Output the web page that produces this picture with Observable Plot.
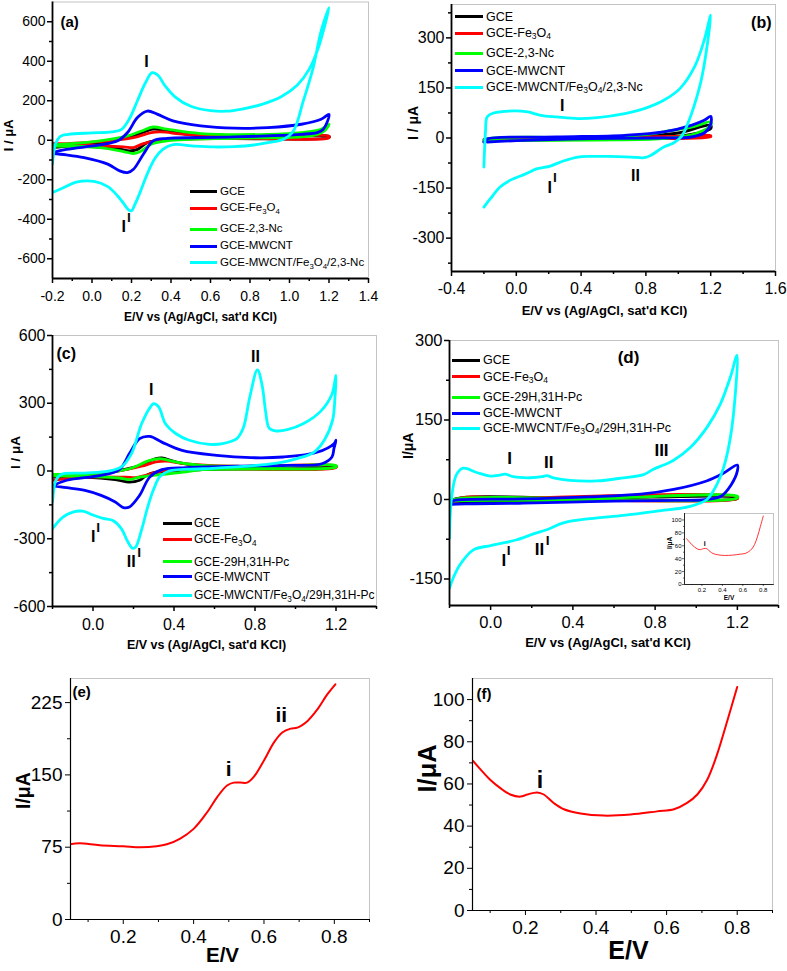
<!DOCTYPE html>
<html><head><meta charset="utf-8">
<script src="https://cdn.jsdelivr.net/npm/d3@7"></script>
<script src="https://cdn.jsdelivr.net/npm/@observablehq/plot@0.6"></script>
<style>
body{margin:0;background:#fff;}
#fig{position:relative;width:787px;height:971px;overflow:hidden;background:#fff;font-family:"Liberation Sans",Arial,Helvetica,sans-serif;}
#fig svg{position:absolute;}
.lt{position:absolute;line-height:1;white-space:nowrap;color:#000;font-family:"Liberation Sans",Arial,Helvetica,sans-serif;}
.lt sub{font-size:0.68em;vertical-align:-0.35em;line-height:0;}
.sw{position:absolute;height:3px;}
</style></head>
<body><div id="fig"></div>
<script>
// ---------- series names ----------
const namesNc = ["GCE","GCE-Fe3O4","GCE-2,3-Nc","GCE-MWCNT","GCE-MWCNT/Fe3O4/2,3-Nc"];
const namesPc = ["GCE","GCE-Fe3O4","GCE-29H,31H-Pc","GCE-MWCNT","GCE-MWCNT/Fe3O4/29H,31H-Pc"];
const seriesColors = ["#000000","#ff0000","#00ff00","#0000ff","#00ffff"];

// ---------- panel (a): CV, 2,3-Nc, [E (V), I (uA)] ----------
const aGCE = [[-0.2,-37],[0.04,-12],[0.21,22],[0.31,56],[0.38,47],[0.55,22],[0.9,20],[1.2,20],[1.2,14],[0.7,8],[0.38,5],[0.28,-12],[0.23,-46],[0.19,-54],[0.13,-42],[-0.04,-29],[-0.2,-24]];
const aFe = [[-0.2,-20],[0.04,-7],[0.21,13],[0.3,39],[0.35,42],[0.47,30],[0.72,22],[1.2,20],[1.2,13],[0.72,10],[0.35,0],[0.26,-17],[0.21,-37],[0.16,-34],[-0.04,-24],[-0.2,-17]];
const aNc = [[-0.2,-24],[0.04,-3],[0.18,22],[0.25,47],[0.31,67],[0.38,56],[0.55,34],[0.89,30],[1.06,39],[1.16,56],[1.2,81],[1.18,50],[1.14,30],[1.06,17],[0.72,10],[0.38,-3],[0.3,-20],[0.25,-54],[0.21,-67],[0.16,-57],[0.04,-37],[-0.2,-29]];
const aMW = [[-0.2,-62],[-0.13,-46],[0.04,-24],[0.13,-3],[0.18,39],[0.23,115],[0.28,148],[0.33,132],[0.41,98],[0.55,73],[0.72,61],[0.89,64],[1.06,81],[1.16,106],[1.2,131],[1.19,90],[1.17,55],[1.14,39],[1.06,30],[0.89,22],[0.72,17],[0.55,13],[0.38,10],[0.31,-3],[0.26,-71],[0.21,-147],[0.18,-164],[0.14,-155],[0.08,-121],[-0.04,-88],[-0.13,-74],[-0.2,-67]];
const aComp = [[-0.2,-120],[-0.185,-20],[-0.16,20],[-0.12,30],[0.0,37],[0.1,42],[0.15,55],[0.19,110],[0.23,200],[0.27,290],[0.305,342],[0.335,328],[0.37,275],[0.42,220],[0.5,172],[0.6,150],[0.68,147],[0.76,158],[0.86,182],[0.96,222],[1.04,280],[1.1,360],[1.15,480],[1.2,671],[1.16,553],[1.12,368],[1.07,199],[1.02,47],[0.97,5],[0.89,-12],[0.82,-24],[0.72,-32],[0.62,-34],[0.52,-30],[0.41,-22],[0.36,-45],[0.32,-90],[0.28,-170],[0.245,-260],[0.215,-330],[0.2,-357],[0.185,-352],[0.16,-320],[0.13,-282],[0.08,-235],[0.01,-208],[-0.08,-212],[-0.14,-238],[-0.2,-265]];
const aPeaks = [{t:"I",x:0.276,y:395},{t:"I",x:0.161,y:-440,sup:true}];

// ---------- panel (b) ----------
const bGCE = [[-0.2,-5],[0.5,2],[0.8,6],[1.0,15],[1.2,38],[1.2,28],[1.0,5],[0.5,-3],[-0.2,-6]];
const bFe = [[-0.2,-12],[-0.1,-3],[0.5,2],[1.0,5],[1.2,7],[1.2,4],[0.5,-2],[-0.1,-5],[-0.2,-10]];
const bNc = [[-0.2,-8],[-0.18,-2],[0.5,2],[0.8,10],[0.95,22],[1.1,35],[1.2,48],[1.2,38],[1.1,12],[0.9,-2],[0.5,-6],[-0.2,-8]];
const bMW = [[-0.2,-12],[-0.18,-3],[0.25,3],[0.67,8],[0.91,18],[1.08,38],[1.16,53],[1.2,65],[1.2,41],[1.16,15],[1.08,3],[0.87,0],[0.46,-2],[0.05,-7],[-0.18,-12]];
const bComp = [[-0.2,-87],[-0.19,20],[-0.18,63],[-0.14,75],[-0.01,81],[0.07,78],[0.15,68],[0.25,63],[0.38,58],[0.5,61],[0.67,73],[0.79,88],[0.91,113],[1.01,148],[1.1,213],[1.16,293],[1.2,368],[1.17,250],[1.14,170],[1.1,100],[1.06,45],[1.02,5],[0.97,-15],[0.91,-27],[0.83,-52],[0.79,-59],[0.71,-57],[0.56,-55],[0.46,-55],[0.38,-57],[0.29,-69],[0.21,-84],[0.13,-92],[0.05,-109],[-0.04,-127],[-0.1,-147],[-0.16,-182],[-0.2,-207]];
const bPeaks = [{t:"I",x:0.283,y:95},{t:"I",x:0.207,y:-148,sup:true},{t:"II",x:0.736,y:-112}];

// ---------- panel (c) ----------
const cGCE = [[-0.2,-15],[0.04,-9],[0.21,18],[0.31,55],[0.34,58],[0.41,40],[0.54,22],[1.2,21],[1.2,18],[0.54,6],[0.28,-12],[0.23,-41],[0.18,-49],[0.11,-38],[-0.04,-27],[-0.2,-27]];
const cFe = [[-0.2,-22],[0.04,-12],[0.24,21],[0.31,40],[0.36,44],[0.46,32],[0.71,21],[1.2,22],[1.2,15],[0.54,9],[0.34,0],[0.26,-19],[0.21,-29],[0.16,-27],[-0.04,-27],[-0.2,-41]];
const cPc = [[-0.2,-15],[0.04,-9],[0.18,10],[0.28,47],[0.33,55],[0.41,40],[0.54,25],[0.88,21],[1.2,24],[1.2,18],[0.54,6],[0.46,-4],[0.23,-27],[0.18,-38],[0.13,-31],[-0.04,-24],[-0.2,-22]];
const cMW = [[-0.2,-66],[-0.13,-41],[0.04,-19],[0.13,6],[0.18,77],[0.23,143],[0.28,153],[0.34,128],[0.44,91],[0.61,69],[0.78,59],[0.94,62],[1.11,84],[1.19,121],[1.2,136],[1.19,100],[1.18,62],[1.13,32],[0.96,25],[0.71,21],[0.46,15],[0.34,6],[0.28,-27],[0.23,-108],[0.18,-159],[0.15,-162],[0.11,-137],[0.04,-108],[-0.04,-86],[-0.13,-74],[-0.2,-66]];
const cComp = [[-0.2,-137],[-0.183,-41],[-0.158,-15],[-0.04,-9],[0.075,-1],[0.14,18],[0.19,77],[0.24,209],[0.283,283],[0.3,298],[0.325,283],[0.358,209],[0.41,165],[0.475,136],[0.575,118],[0.64,121],[0.71,143],[0.742,190],[0.775,330],[0.812,448],[0.835,380],[0.853,260],[0.87,190],[0.9,178],[0.96,183],[1.04,210],[1.125,265],[1.18,340],[1.2,423],[1.195,327],[1.183,224],[1.142,136],[1.092,84],[1.008,55],[0.908,35],[0.708,18],[0.542,10],[0.375,0],[0.33,-25],[0.3,-80],[0.27,-160],[0.24,-260],[0.21,-338],[0.195,-342],[0.17,-310],[0.14,-255],[0.1,-220],[0.05,-210],[0.0,-195],[-0.05,-178],[-0.1,-182],[-0.15,-205],[-0.2,-255]];
const cPeaks = [{t:"I",x:0.287,y:361},{t:"II",x:0.802,y:504},{t:"I",x:0.001,y:-293,sup:true},{t:"II",x:0.189,y:-404,sup:true}];

// ---------- panel (d) ----------
const dGCE = [[-0.2,-8],[-0.18,0],[0.5,2],[1.2,4],[1.2,2],[0.5,-2],[-0.2,-6]];
const dFe = [[-0.2,-16],[-0.17,0],[0.16,3],[1.2,5],[1.2,2],[0.32,-1],[-0.17,-4],[-0.2,-13]];
const dPc = [[-0.2,-6],[-0.18,0],[0.48,2],[1.2,6],[1.2,3],[0.48,-2],[-0.18,-3],[-0.2,-5]];
const dMW = [[-0.2,-6],[-0.18,-2],[0.16,1],[0.48,5],[0.73,10],[0.89,19],[1.05,35],[1.13,49],[1.2,65],[1.2,54],[1.17,28],[1.12,6],[1.05,0],[0.81,-2],[0.48,-4],[0.16,-7],[-0.08,-8],[-0.2,-9]];
const dComp = [[-0.2,-73],[-0.19,3],[-0.166,47],[-0.133,59],[-0.068,51],[0,44],[0.045,46],[0.07,48],[0.11,43],[0.19,41],[0.25,43],[0.273,45],[0.305,41],[0.386,36],[0.516,35],[0.646,41],[0.744,47],[0.792,57],[0.841,65],[0.89,74],[0.971,98],[1.052,136],[1.117,180],[1.166,231],[1.198,272],[1.19,199],[1.166,117],[1.133,60],[1.1,28],[1.052,0],[0.971,-13],[0.808,-22],[0.646,-30],[0.484,-36],[0.354,-44],[0.273,-57],[0.208,-65],[0.127,-76],[0.062,-82],[0,-87],[-0.084,-95],[-0.149,-123],[-0.182,-148],[-0.2,-167]];
const dPeaks = [{t:"I",x:0.092,y:77},{t:"II",x:0.283,y:70},{t:"III",x:0.831,y:92},{t:"I",x:0.064,y:-115,sup:true},{t:"II",x:0.238,y:-95,sup:true}];

// ---------- panels (e), (f) and inset ----------
const eCurve = [[0.048,78],[0.076,79],[0.133,77],[0.2,76],[0.248,75],[0.295,76],[0.324,78],[0.362,84],[0.4,94],[0.438,111],[0.467,127],[0.495,139],[0.514,142],[0.533,142],[0.552,142],[0.571,148],[0.6,165],[0.629,184],[0.652,194],[0.676,198],[0.695,199],[0.724,206],[0.752,218],[0.781,234],[0.803,244]];
const ePeaks = [{t:"i",x:0.5,y:156},{t:"ii",x:0.649,y:212}];
const fCurve = [[0.051,71],[0.072,67],[0.1,62],[0.129,58],[0.157,55],[0.186,54],[0.205,55],[0.233,56],[0.252,55],[0.28,51],[0.309,48],[0.356,46],[0.422,45],[0.498,45.5],[0.573,47],[0.621,48],[0.658,51],[0.687,55],[0.715,62],[0.743,74],[0.772,90],[0.8,106]];
const fPeaks = [{t:"i",x:0.241,y:61.6}];
const insetPeaks = [{t:"i",x:0.228,y:63}];

// ---------- ticks ----------
const xTicksA = [-0.2,0,0.2,0.4,0.6,0.8,1.0,1.2,1.4], xMinorA = [-0.1,0.1,0.3,0.5,0.7,0.9,1.1,1.3];
const yTicksA = [-600,-400,-200,0,200,400,600], yMinorA = [-500,-300,-100,100,300,500];
const xTicksB = [-0.4,0,0.4,0.8,1.2,1.6], xMinorB = [-0.2,0.2,0.6,1.0,1.4];
const yTicksB = [-300,-150,0,150,300], yMinorB = [-375,-225,-75,75,225,375];
const xTicksCD = [0,0.4,0.8,1.2], xMinorCD = [-0.2,0.2,0.6,1.0,1.4];
const yTicksC = [-600,-300,0,300,600], yMinorC = [-450,-150,150,450];
const yTicksD = [-150,0,150,300], yMinorD = [-75,75,225];
const xTicksEF = [0.2,0.4,0.6,0.8], xMinorEF = [0.1,0.3,0.5,0.7,0.9];
const yTicksE = [0,75,150,225], yMinorE = [37.5,112.5,187.5];
const yTicksF = [0,20,40,60,80,100], yMinorF = [10,30,50,70,90];

const xTitleCV = "E/V vs (Ag/AgCl, sat'd KCl)";

// ---------- drawing ----------
const fig = document.getElementById("fig");
const FONT = '"Liberation Sans", Arial, Helvetica, sans-serif';
const fx1 = d => d.toFixed(1);
const fy0 = d => String(d);

function panel(c) {
  const [L, T, W, H] = c.box;
  const [x0, x1, y0, y1] = c.frame;
  const marks = [];
  if (c.fill) marks.push(Plot.frame({fill: "white", stroke: "none"}));
  marks.push(Plot.frame({stroke: "#c4c4c4", strokeWidth: 1}));
  c.lines.forEach((s, i) => marks.push(Plot.line(s, {x: d => d[0], y: d => d[1], stroke: c.colors[i], strokeWidth: c.sw, curve: "catmull-rom", clip: true})));
  marks.push(
    Plot.axisX({ticks: c.xMinor, tickSize: c.minor, tickFormat: () => "", strokeWidth: c.tw, label: null}),
    Plot.axisX({ticks: c.xMajor, tickSize: c.major, tickPadding: c.xpad, tickFormat: fx1, strokeWidth: c.tw, label: null}),
    Plot.axisY({ticks: c.yMinor, tickSize: c.minor, tickFormat: () => "", strokeWidth: c.tw, label: null}),
    Plot.axisY({ticks: c.yMajor, tickSize: c.major, tickPadding: c.ypad, tickFormat: fy0, strokeWidth: c.tw, label: null}),
    Plot.ruleX([c.xd[0]], {stroke: "#000", strokeWidth: c.aw}),
    Plot.ruleY([c.yd[0]], {stroke: "#000", strokeWidth: c.aw}),
    Plot.text([c.xTitle], {text: d => d, frameAnchor: "bottom", lineAnchor: "middle", dx: c.xt[0], dy: c.xt[1], fontSize: c.xt[2], fontWeight: "bold", fill: "#000"}),
    Plot.text([c.yTitle], {text: d => d, frameAnchor: "left", lineAnchor: "middle", rotate: -90, dx: c.yt[0], dy: c.yt[1], fontSize: c.yt[2], fontWeight: "bold", fill: "#000"})
  );
  if (c.tag) marks.push(Plot.text([c.tag[0]], {text: d => d, frameAnchor: c.tag[1], lineAnchor: "middle", textAnchor: c.tag[2], dx: c.tag[3], dy: c.tag[4], fontSize: c.tag[5], fontWeight: "bold", fill: "#000"}));
  marks.push(Plot.text(c.peaks, {x: "x", y: "y", text: "t", fontSize: c.pfs, fontWeight: "bold", fill: "#000"}));
  c.peaks.filter(p => p.sup).forEach(p => {
    marks.push(Plot.text([p], {x: "x", y: "y", text: () => "I", dx: p.t.length > 1 ? 8 : 5, dy: -9, fontSize: Math.round(c.pfs * 0.72), fontWeight: "bold", fill: "#000", stroke: "#000", strokeWidth: 0.2}));
  });
  const svg = Plot.plot({
    width: W, height: H,
    marginLeft: x0 - L, marginRight: L + W - x1, marginTop: y0 - T, marginBottom: T + H - y1,
    x: {domain: c.xd}, y: {domain: c.yd},
    style: {background: "transparent", overflow: "visible", fontFamily: FONT, fontSize: c.fs + "px", color: "#000"},
    marks
  });
  svg.style.position = "absolute";
  svg.style.left = L + "px";
  svg.style.top = T + "px";
  fig.appendChild(svg);
}

function legend(names, colors, swX, swW, txX, ys, fs) {
  names.forEach((n, i) => {
    const sw = document.createElement("div");
    sw.className = "sw";
    sw.style.cssText += `left:${swX}px;top:${ys[i] - 1.5}px;width:${swW}px;background:${colors[i]};`;
    fig.appendChild(sw);
    const t = document.createElement("div");
    t.className = "lt";
    t.style.cssText += `left:${txX}px;top:${ys[i]}px;font-size:${fs}px;transform:translateY(-52%);`;
    t.innerHTML = n.replace("Fe3O4", "Fe<sub>3</sub>O<sub>4</sub>");
    fig.appendChild(t);
  });
}

const common = {colors: seriesColors, sw: 2.8, tw: 1.5, aw: 1.8, major: 5, minor: 3, ypad: 2};

panel({...common, box: [0, 0, 390, 330], frame: [52, 368, 1.5, 278], xd: [-0.2, 1.4], yd: [-700, 700],
  lines: [aGCE, aFe, aNc, aMW, aComp], xMajor: xTicksA, xMinor: xMinorA, yMajor: yTicksA, yMinor: yMinorA,
  fs: 14, xpad: 8, xTitle: xTitleCV, xt: [-10, 39, 12], yTitle: "I / μA", yt: [-44, 11, 13],
  tag: ["(a)", "top-left", "start", 8, 20, 15], peaks: aPeaks, pfs: 16});

panel({...common, box: [390, 0, 397, 330], frame: [451, 775, 4, 271], xd: [-0.4, 1.6], yd: [-400, 400],
  lines: [bGCE, bFe, bNc, bMW, bComp], xMajor: xTicksB, xMinor: xMinorB, yMajor: yTicksB, yMinor: yMinorB,
  fs: 16, xpad: 6, xTitle: xTitleCV, xt: [-9, 39, 13], yTitle: "I / μA", yt: [-38, 2, 14],
  tag: ["(b)", "top-right", "end", -4, 18, 16], peaks: bPeaks, pfs: 16});

panel({...common, box: [0, 330, 390, 330], frame: [52, 376, 335, 606], xd: [-0.2, 1.4], yd: [-600, 600],
  lines: [cGCE, cFe, cPc, cMW, cComp], xMajor: xTicksCD, xMinor: xMinorCD, yMajor: yTicksC, yMinor: yMinorC,
  fs: 16, xpad: 7, xTitle: xTitleCV, xt: [-8, 38, 12.5], yTitle: "I / μA", yt: [-37, -2, 13.5],
  tag: ["(c)", "top-left", "start", 4, 18, 16], peaks: cPeaks, pfs: 16});

panel({...common, box: [390, 330, 397, 330], frame: [449, 778, 340, 605], xd: [-0.2, 1.4], yd: [-200, 300],
  lines: [dGCE, dFe, dPc, dMW, dComp], xMajor: xTicksCD, xMinor: xMinorCD, yMajor: yTicksD, yMinor: yMinorD,
  fs: 16.5, xpad: 6, xTitle: xTitleCV, xt: [-6, 37, 13], yTitle: "I/μA", yt: [-41, -14, 14],
  tag: ["(d)", "top-left", "middle", 179, 17, 17], peaks: dPeaks, pfs: 17});

panel({colors: ["#ff0000"], sw: 0.8, tw: 0.6, aw: 0.8, major: 2, minor: 1, ypad: 1, fill: true,
  box: [660, 505, 127, 105], frame: [684, 773, 513, 584], xd: [0.03, 0.9], yd: [0, 110],
  lines: [fCurve], xMajor: xTicksEF, xMinor: xMinorEF, yMajor: yTicksF, yMinor: yMinorF,
  fs: 6, xpad: 1, xTitle: "E/V", xt: [0, 13, 6.5], yTitle: "I/μA", yt: [-15, 0, 6.5],
  tag: null, peaks: insetPeaks, pfs: 7});

panel({colors: ["#ff0000"], sw: 2, tw: 1, aw: 1.2, major: 5, minor: 3, ypad: 3,
  box: [0, 660, 390, 311], frame: [70, 369, 678, 919], xd: [0.05, 0.9], yd: [0, 250],
  lines: [eCurve], xMajor: xTicksEF, xMinor: xMinorEF, yMajor: yTicksE, yMinor: yMinorE,
  fs: 19, xpad: 5, xTitle: "E/V", xt: [2.5, 36, 20.5], yTitle: "I/μA", yt: [-47, 10, 19.5],
  tag: ["(e)", "top-left", "start", 2, 14, 15], peaks: ePeaks, pfs: 21});

panel({colors: ["#ff0000"], sw: 2, tw: 1, aw: 1.2, major: 5, minor: 3, ypad: 3,
  box: [390, 660, 397, 311], frame: [472, 772, 678, 910], xd: [0.05, 0.9], yd: [0, 110],
  lines: [fCurve], xMajor: xTicksEF, xMinor: xMinorEF, yMajor: yTicksF, yMinor: yMinorF,
  fs: 19, xpad: 5, xTitle: "E/V", xt: [6, 40, 25], yTitle: "I/μA", yt: [-45, -2, 25.5],
  tag: ["(f)", "top-left", "start", 4, 16, 15], peaks: fPeaks, pfs: 23});

legend(namesNc, seriesColors, 190, 27, 220, [191.7, 208.3, 229.3, 246, 262.7], 11.5);
legend(namesNc, seriesColors, 455, 28, 486, [16.7, 33.3, 53.3, 70.7, 87.3], 12.5);
legend(namesPc, seriesColors, 163, 29, 194, [523.3, 539.3, 561.7, 576.7, 595], 12);
legend(namesPc, seriesColors, 452, 28, 483, [360, 376.7, 397.3, 413.3, 428.3], 12.5);
</script>
</body></html>
